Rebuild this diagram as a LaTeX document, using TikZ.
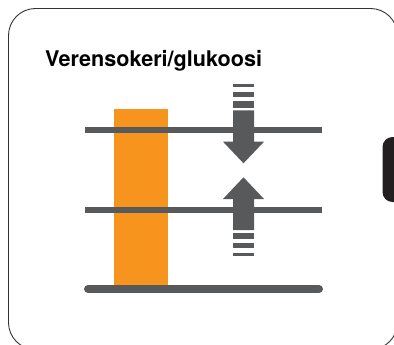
\documentclass[tikz,border=0pt]{standalone}
\usepackage{fontspec}
\setmainfont{TeX Gyre Heros}
\definecolor{bargray}{HTML}{58595B}
\definecolor{barorange}{HTML}{F7941E}
\definecolor{tabblack}{HTML}{231F20}
\begin{document}
\begin{tikzpicture}[x=1pt,y=-1pt,
  frame/.style={draw=black!80,line width=0.9pt,rounded corners=27pt},
  level/.style={draw=bargray,line width=6pt},
  baseline/.style={draw=bargray,line width=8pt,line cap=round},
  graypart/.style={fill=bargray,draw=none}]
\useasboundingbox (0,0) rectangle (394,345);
\begin{scope}
\clip (0,0) rectangle (394,345);
\draw[frame] (8.5,8.5) rectangle (397.5,349.5);
\fill[tabblack,rounded corners=10pt] (382.5,137) rectangle (404,202);
\end{scope}
\node[anchor=base west,inner sep=0pt,font=\bfseries\fontsize{21.6}{25}\selectfont] (title) at (45,67) {Verensokeri/glukoosi};
\fill[barorange] (114,109) rectangle (168,287);
\coordinate (l1a) at (85,130); \coordinate (l1b) at (322,130);
\coordinate (l2a) at (85,210); \coordinate (l2b) at (322,210);
\coordinate (l3a) at (88,289); \coordinate (l3b) at (319,289);
\draw[level] (l1a) -- (l1b);
\draw[level] (l2a) -- (l2b);
\draw[baseline] (l3a) -- (l3b);
% down arrow
\fill[graypart] (233,84.5) rectangle (254,87);
\fill[graypart] (233,92.5) rectangle (254,97);
\fill[graypart] (233,101) rectangle (254,107.7);
\fill[graypart] (233,110.5) -- (254,110.5) -- (254,141.7) -- (264,141.7) -- (243.5,163.3) -- (223,141.7) -- (233,141.7) -- cycle;
% up arrow
\fill[graypart] (233,230) -- (254,230) -- (254,199) -- (264,199) -- (243.5,177.3) -- (223,199) -- (233,199) -- cycle;
\fill[graypart] (233,232.5) rectangle (254,239.3);
\fill[graypart] (233,243.3) rectangle (254,247.7);
\fill[graypart] (233,252.7) rectangle (254,255.5);
\end{tikzpicture}
\end{document}
